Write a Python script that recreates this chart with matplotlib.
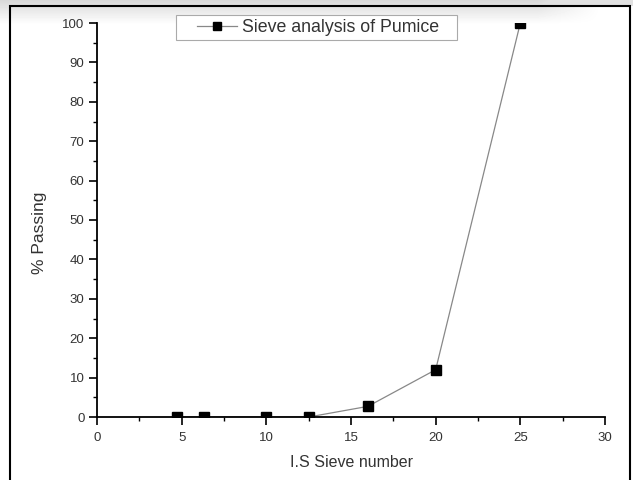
import numpy as np
import matplotlib.pyplot as plt
from matplotlib.patches import Rectangle
from matplotlib.ticker import MultipleLocator

# sieve analysis of pumice
sieve_number = [4.75, 6.3, 10, 12.5, 16, 20, 25]
passing = [0, 0, 0, 0, 2.7, 12, 100]

plt.rcParams["font.family"] = ["Liberation Sans", "DejaVu Sans"]

fig = plt.figure(figsize=(6.33, 4.8), dpi=100)

# soft grey shading along the top of the picture
bg = fig.add_axes([0, 0, 1, 1], zorder=-1)
bg.set_axis_off()
rows = np.linspace(0, 1, 480)[:, None]
cols = np.linspace(0, 1, 633)[None, :]
shade = np.clip(1 - rows * 480 / 24, 0, 1) * np.clip((0.95 - cols) / 0.1, 0, 1)
shade[:6, :] = np.maximum(shade[:6, :], 0.8)
bg.imshow(1 - 0.15 * shade, cmap="gray", vmin=0, vmax=1, aspect="auto",
          extent=(0, 1, 0, 1), interpolation="bilinear")
bg.set_xlim(0, 1)
bg.set_ylim(0, 1)

ax = fig.add_axes([97 / 633, 1 - 417 / 480, 508 / 633, 394 / 480])
ax.patch.set_alpha(0)

ax.plot(sieve_number, passing, color="#888888", linewidth=0.9,
        marker="s", markersize=6.5, markerfacecolor="black",
        markeredgecolor="black", label="Sieve analysis of Pumice")

ax.set_xlim(0, 30)
ax.set_ylim(0, 100)
ax.xaxis.set_major_locator(MultipleLocator(5))
ax.xaxis.set_minor_locator(MultipleLocator(2.5))
ax.yaxis.set_major_locator(MultipleLocator(10))
ax.yaxis.set_minor_locator(MultipleLocator(5))

for s in ["top", "right"]:
    ax.spines[s].set_visible(False)
for s in ["left", "bottom"]:
    ax.spines[s].set_linewidth(1.3)

ax.tick_params(which="major", direction="out", length=5.5, width=1.2,
               labelsize=9.5, labelcolor="#333333")
ax.tick_params(which="minor", direction="out", length=3, width=1.0)
ax.tick_params(axis="x", which="major", pad=5.5)

ax.set_xlabel("I.S Sieve number", fontsize=11.5, color="#333333", labelpad=8)
ax.set_ylabel("% Passing", fontsize=12.5, color="#333333")
ax.yaxis.set_label_coords(-0.0975, 0.467)

# legend box drawn by hand (Origin style, wider on the left)
ax.add_patch(Rectangle((176 / 633, 1 - 40 / 480), 281 / 633, 25 / 480,
                       transform=fig.transFigure, facecolor="white",
                       edgecolor="#aaaaaa", linewidth=0.8, zorder=4,
                       clip_on=False))
leg = ax.legend(loc="center left", bbox_to_anchor=(197 / 633, 1 - 27.5 / 480),
                bbox_transform=fig.transFigure, fontsize=12.8, frameon=False,
                handlelength=2.25, handletextpad=0.3, borderpad=0,
                borderaxespad=0, markerscale=0.9)
leg.set_zorder(6)
for t in leg.get_texts():
    t.set_color("#333333")

# frame around the picture
fig.patches.append(Rectangle((10 / 633, -0.01), 620 / 633, 1 - 6 / 480 + 0.01,
                             transform=fig.transFigure, facecolor="none",
                             edgecolor="black", linewidth=1.5, zorder=5))

fig.savefig("out.png", dpi=100)
